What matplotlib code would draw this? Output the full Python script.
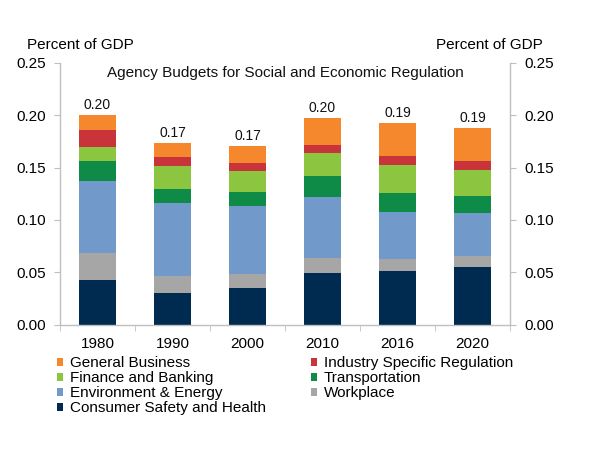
import matplotlib
matplotlib.use("Agg")
import matplotlib.pyplot as plt
import numpy as np

plt.rcParams['font.family'] = ['Liberation Sans', 'DejaVu Sans']

years = ["1980", "1990", "2000", "2010", "2016", "2020"]
series_names = ["Consumer Safety and Health", "Workplace", "Environment & Energy",
                "Transportation", "Finance and Banking", "Industry Specific Regulation",
                "General Business"]
consumer = [0.043, 0.030, 0.035, 0.0497, 0.0513, 0.0548]
workplace = [0.026, 0.017, 0.014, 0.0137, 0.0114, 0.0108]
environment = [0.068, 0.069, 0.064, 0.0586, 0.0453, 0.0409]
transportation = [0.019, 0.0136, 0.014, 0.0196, 0.0175, 0.0168]
finance = [0.0135, 0.0222, 0.0197, 0.0219, 0.0268, 0.0247]
industry = [0.0165, 0.0085, 0.0076, 0.008, 0.0087, 0.0085]
general = [0.014, 0.0127, 0.016, 0.0255, 0.0317, 0.0313]
total_labels = ["0.20", "0.17", "0.17", "0.20", "0.19", "0.19"]
yticks = [0.00, 0.05, 0.10, 0.15, 0.20, 0.25]

colors = ["#002b51", "#a6a6a6", "#7199c9", "#0f8b48", "#8cc540", "#c8343a", "#f5882c"]
data = [consumer, workplace, environment, transportation, finance, industry, general]

fig = plt.figure(figsize=(6.0, 4.51), dpi=100)
ax = fig.add_axes([0.1, 0.2794, 0.75, 0.5820])

x = np.arange(len(years))
bottom = np.zeros(len(years))
handles = []
for name, vals, c in zip(series_names, data, colors):
    b = ax.bar(x, vals, width=0.5, bottom=bottom, color=c, label=name, zorder=2)
    handles.append(b)
    bottom += np.array(vals)

for xi, tot, lab in zip(x, bottom, total_labels):
    ax.text(xi, tot + 0.003, lab, ha='center', va='bottom', fontsize=10, color='#111111')

ax.set_xlim(-0.5, len(years) - 0.5)
ax.set_ylim(0, 0.25)
ax.set_yticks(yticks)
ax.set_yticklabels([f"{v:.2f}" for v in yticks])
ax.set_xticks(x)
ax.set_xticklabels(years)
ax.set_xticks(np.arange(len(years) + 1) - 0.5, minor=True)
ax.tick_params(axis='x', which='major', length=0, labelsize=11, pad=9)
ax.tick_params(axis='x', which='minor', length=4, color='#bfbfbf', direction='out')
ax.tick_params(axis='y', which='both', left=True, right=True, labelleft=True, labelright=True,
               labelsize=11, length=4, color='#bfbfbf', direction='out', pad=6)

for s in ['left', 'right', 'bottom']:
    ax.spines[s].set_color('#bfbfbf')
    ax.spines[s].set_linewidth(1.0)
ax.spines['top'].set_visible(False)

ax.text(0.5, 0.985, "Agency Budgets for Social and Economic Regulation", transform=ax.transAxes,
        ha='center', va='top', fontsize=11, color='#111111')
fig.text(27 / 600, 1 - 45 / 451, "Percent of GDP", ha='left', va='center', fontsize=11)
fig.text(543 / 600, 1 - 45 / 451, "Percent of GDP", ha='right', va='center', fontsize=11)

order = [6, 4, 2, 0, 5, 3, 1]
leg = fig.legend([handles[i] for i in order], [series_names[i] for i in order],
                 ncol=2, loc='upper left', bbox_to_anchor=(57 / 600, 1 - 356 / 451),
                 frameon=False, fontsize=11, handlelength=0.42, handleheight=0.42,
                 handletextpad=0.45, labelspacing=0.07, columnspacing=2.9,
                 borderpad=0, borderaxespad=0)

fig.savefig("out.png", dpi=100)
